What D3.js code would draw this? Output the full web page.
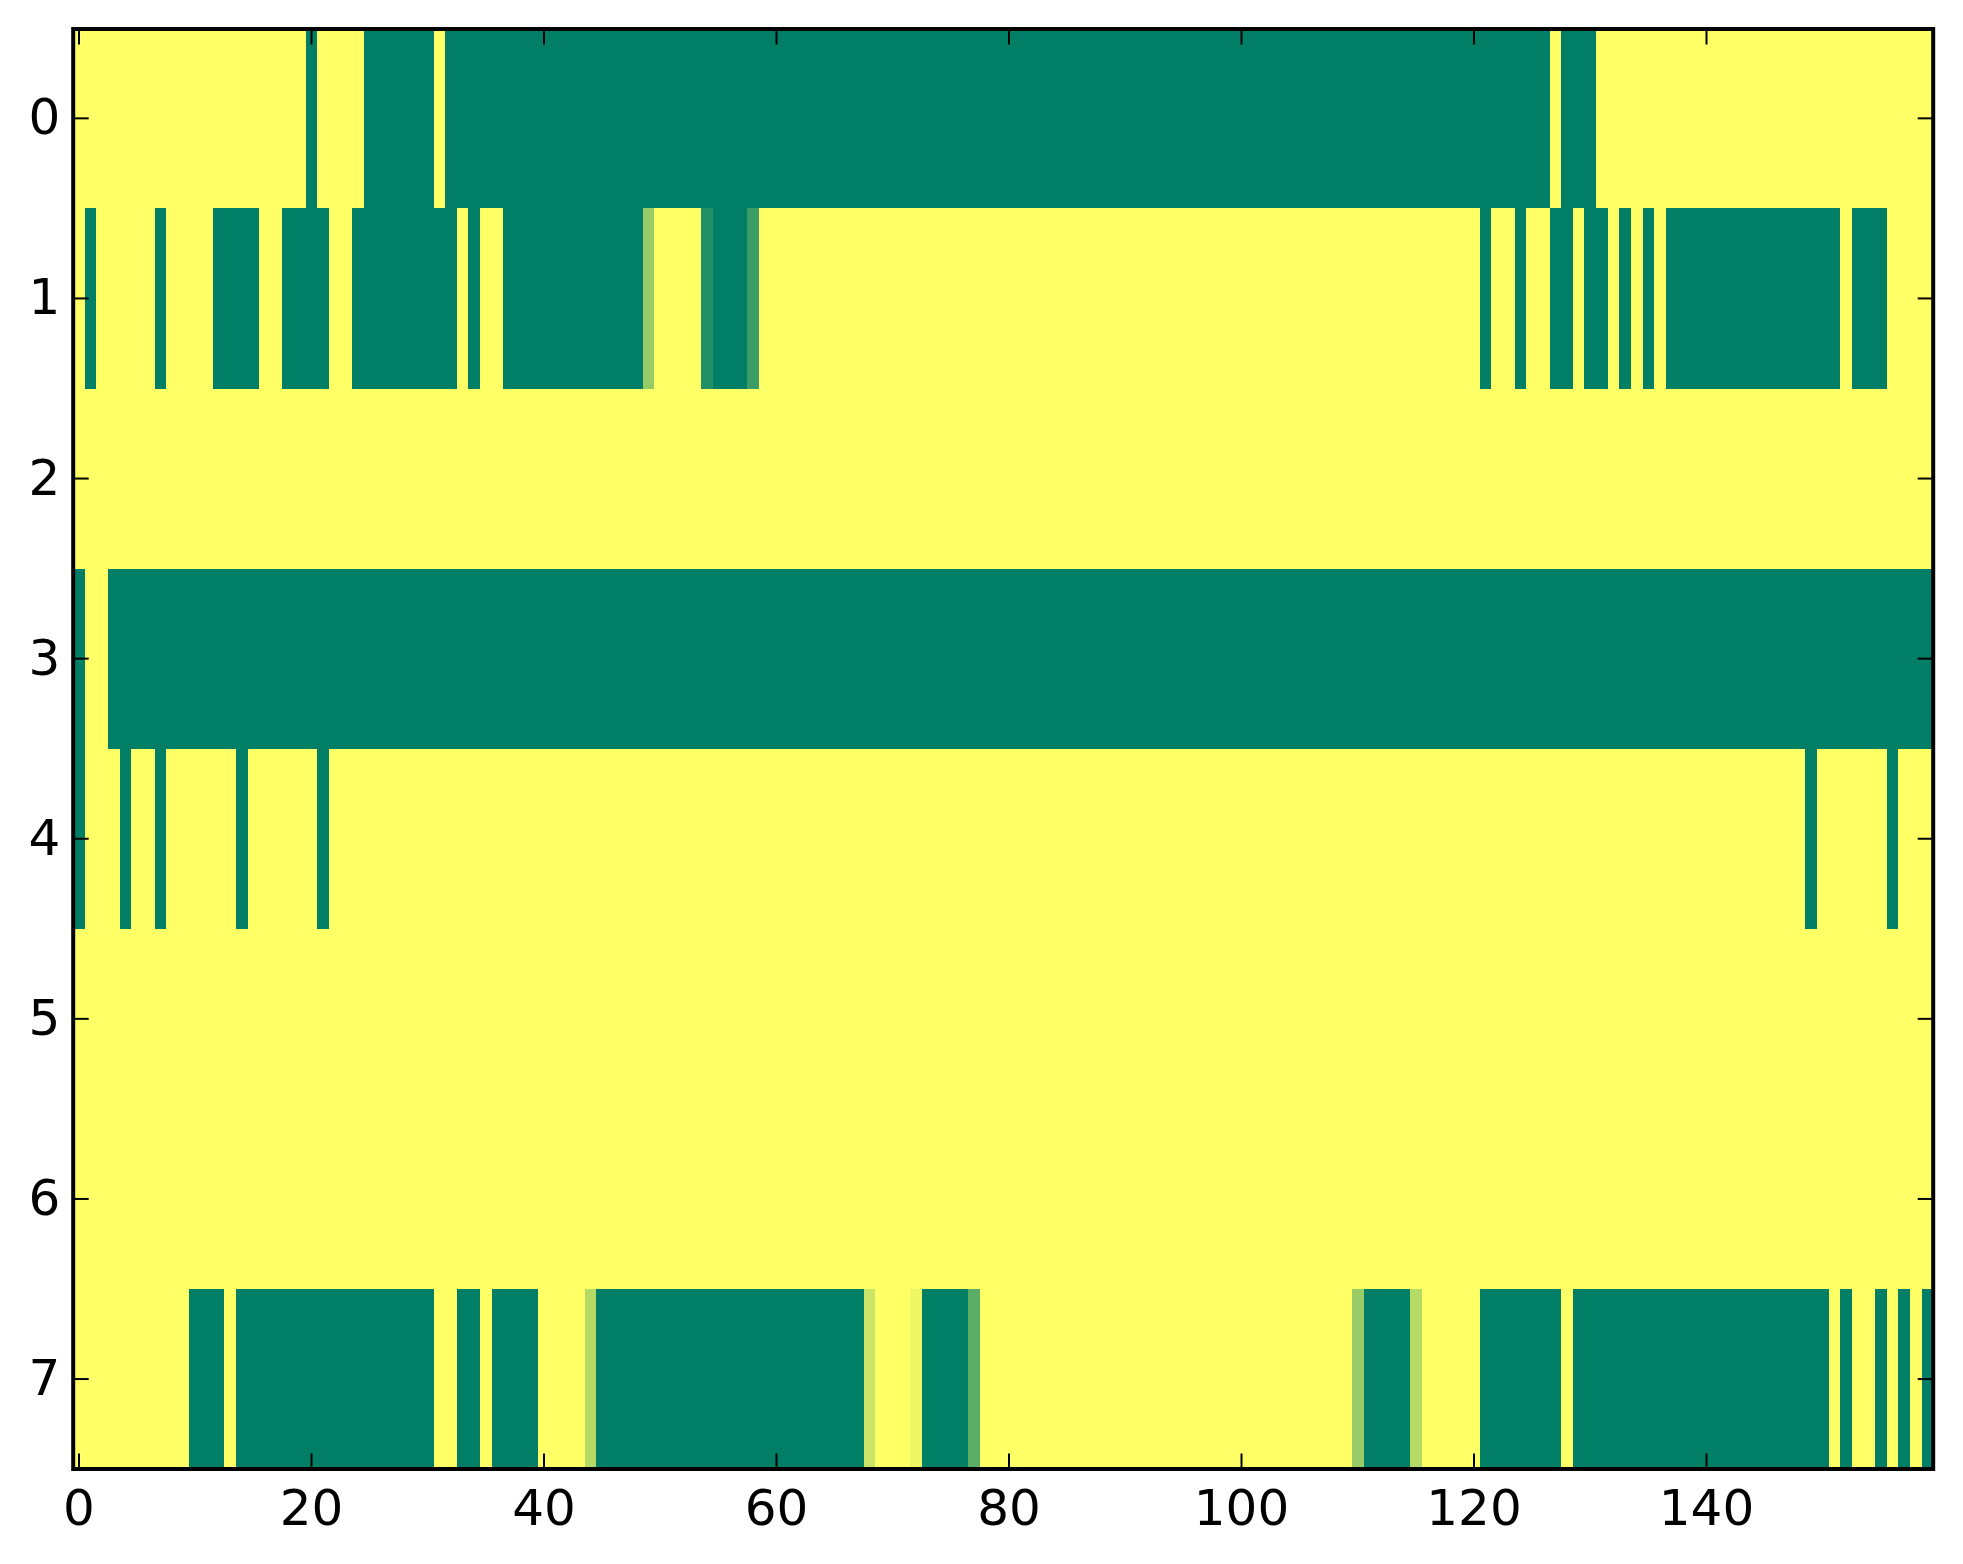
<!DOCTYPE html>
<html>
<head>
<meta charset="utf-8">
<title>Heatmap</title>
<script src="https://cdn.jsdelivr.net/npm/d3@7"></script>
<style>
	body { margin: 0; background: #fff; }
	text { font-family: "DejaVu Sans", sans-serif; }
</style>
</head>
<body>
<script>
const columnCount = 160;
const rowLabels = [0, 1, 2, 3, 4, 5, 6, 7];
const xTickValues = [0, 20, 40, 60, 80, 100, 120, 140];

// runs of columns at full value, [first, last] inclusive, one list per row
const row0Runs = [[20, 20], [25, 30], [32, 126], [128, 130]];
const row1Runs = [[1, 1], [7, 7], [12, 15], [18, 21], [24, 32], [34, 34], [37, 48], [55, 57],
	[121, 121], [124, 124], [127, 128], [130, 131], [133, 133], [135, 135], [137, 151], [153, 155]];
const row2Runs = [];
const row3Runs = [[0, 0], [3, 159]];
const row4Runs = [[0, 0], [4, 4], [7, 7], [14, 14], [21, 21], [149, 149], [156, 156]];
const row5Runs = [];
const row6Runs = [];
const row7Runs = [[10, 12], [14, 30], [33, 34], [36, 39], [45, 67], [73, 76], [111, 114],
	[121, 127], [129, 150], [152, 152], [155, 155], [157, 157], [159, 159]];
const rowRuns = [row0Runs, row1Runs, row2Runs, row3Runs, row4Runs, row5Runs, row6Runs, row7Runs];

// the few cells in between, [row, column, value]
const partialCells = [
	[1, 49, 0.41], [1, 54, 0.87], [1, 58, 0.77],
	[7, 44, 0.29], [7, 68, 0.21], [7, 72, 0.06], [7, 77, 0.64],
	[7, 110, 0.40], [7, 115, 0.29]
];

const w = 1963;
const h = 1564;
const left = 73.2;
const right = 1933.2;
const top_ = 28.3;
const bottom = 1469.1;
const frameTop = 29;
const frameBottom = 1469;
const tickLen = 15.5;

const cells = [];
rowRuns.forEach((runs, row) => {
	for (let col = 0; col < columnCount; col++) {
		const on = runs.some((r) => col >= r[0] && col <= r[1]);
		const partial = partialCells.find((c) => c[0] === row && c[1] === col);
		cells.push({ row: row, col: col, value: partial ? partial[2] : (on ? 1 : 0) });
	}
});

const x = d3.scaleLinear().domain([-0.5, columnCount - 0.5]).range([left, right]);
const y = d3.scaleLinear().domain([-0.5, rowLabels.length - 0.5]).range([top_, bottom]);
const color = d3.scaleLinear().domain([0, 1]).range(["#ffff66", "#007f66"]);

const svg = d3.select("body")
	.append("svg")
	.attr("width", w)
	.attr("height", h)
	.style("display", "block");

svg.append("g")
	.selectAll("rect")
	.data(cells)
	.enter()
	.append("rect")
	.attr("x", (d) => x(d.col - 0.5))
	.attr("y", (d) => y(d.row - 0.5))
	.attr("width", (d) => x(d.col + 0.5) - x(d.col - 0.5))
	.attr("height", (d) => y(d.row + 0.5) - y(d.row - 0.5))
	.attr("fill", (d) => color(d.value))
	.attr("shape-rendering", "crispEdges");

// inward ticks on all four sides, labels only left and bottom
const axisBottom = d3.axisBottom(x).tickValues(xTickValues).tickSizeInner(-tickLen).tickSizeOuter(0).tickPadding(20).offset(0);
const axisTop = d3.axisTop(x).tickValues(xTickValues).tickSizeInner(-tickLen).tickSizeOuter(0).tickFormat("").offset(0);
const axisLeft = d3.axisLeft(y).tickValues(rowLabels).tickSizeInner(-tickLen).tickSizeOuter(0).tickPadding(13).offset(0);
const axisRight = d3.axisRight(y).tickValues(rowLabels).tickSizeInner(-tickLen).tickSizeOuter(0).tickFormat("").offset(0);

const axes = [
	[axisBottom, 0, frameBottom],
	[axisTop, 0, frameTop],
	[axisLeft, left, 0],
	[axisRight, right, 0]
];

axes.forEach((a) => {
	const g = svg.append("g")
		.attr("transform", "translate(" + a[1] + "," + a[2] + ")")
		.call(a[0]);
	g.select(".domain").remove();
	g.selectAll(".tick line").attr("stroke", "#000").attr("stroke-width", 2);
	g.selectAll(".tick text").attr("fill", "#000").style("font-size", "50px");
});

svg.append("rect")
	.attr("x", left)
	.attr("y", frameTop)
	.attr("width", right - left)
	.attr("height", frameBottom - frameTop)
	.attr("fill", "none")
	.attr("stroke", "#000")
	.attr("stroke-width", 4);
</script>
</body>
</html>
